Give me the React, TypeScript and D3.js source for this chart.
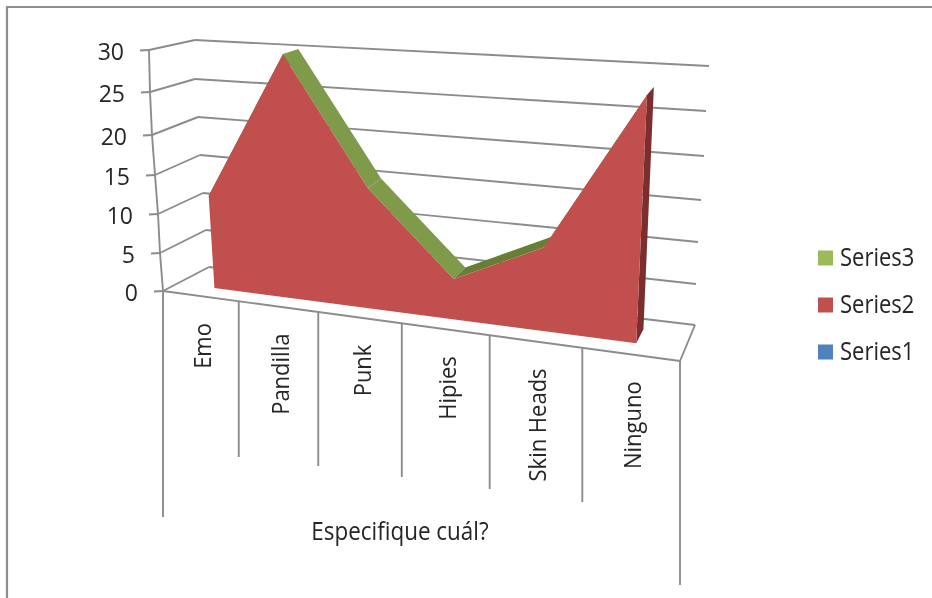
import React from "react";
import * as d3 from "d3";

const categories = ["Emo", "Pandilla", "Punk", "Hipies", "Skin Heads", "Ninguno"];
const series2 = [12, 30, 15, 5, 10, 28];
const series3 = [12, 30, 15, 5, 10, 28];
const legendItems = [
  { name: "Series3", color: "#9bbb59" },
  { name: "Series2", color: "#c0504d" },
  { name: "Series1", color: "#4f81bd" },
];
const yTicks = [0, 5, 10, 15, 20, 25, 30];
const axisTitle = "Especifique cuál?";

// calibration of the box edges at each y tick
const lfX = [163, 160, 158, 155, 152, 150, 149];
const lfY = [291, 253, 214, 175, 135, 92, 50];
const lbX = [209, 206, 203, 200, 198, 195, 195];
const lbY = [267, 230, 193, 155, 117, 79, 40];
const rbX = [695, 696, 698, 701, 704, 706, 709];
const rbY = [325, 284, 242, 200, 156, 111, 66];
const rfX = rbX.map((x) => 680 + (x - 695) * 1.06);
const rfY = rbY.map((y) => 361 - (325 - y) * 1.06);
const tickDrop = [517, 457, 466, 477, 489, 502, 585];

const sc = (r: number[]) => d3.scaleLinear().domain(yTicks).range(r);
const LFx = sc(lfX), LFy = sc(lfY), LBx = sc(lbX), LBy = sc(lbY);
const RBx = sc(rbX), RBy = sc(rbY), RFx = sc(rfX), RFy = sc(rfY);

const K = 1.165;
const persp = (u: number) => u / (u + K * (1 - u));
const catBin = (i: number) => persp((i + 0.5) / categories.length);
const catEdge = (i: number) => persp(i / categories.length);

function project(t: number, d: number, w: number): [number, number] {
  const fx = d3.interpolateNumber(LFx(w), RFx(w))(t);
  const fy = d3.interpolateNumber(LFy(w), RFy(w))(t);
  const bx = d3.interpolateNumber(LBx(w), RBx(w))(t);
  const by = d3.interpolateNumber(LBy(w), RBy(w))(t);
  return [fx + (bx - fx) * d, fy + (by - fy) * d];
}

const RED_D = 0.32;
const GREEN_D = 0.72;
const line = d3.line<[number, number]>();
const GRID = "#8c8c8c";
const INK = "#262626";

function Seg({ a, b, w = 1.9 }: { a: [number, number]; b: [number, number]; w?: number }) {
  return <line x1={a[0]} y1={a[1]} x2={b[0]} y2={b[1]} stroke={GRID} strokeWidth={w} />;
}

export default function App() {
  const redFront = series2.map((v, i) => project(catBin(i), RED_D, v));
  const redBase = series2.map((_, i) => project(catBin(i), RED_D, 0));
  const greenBack = series3.map((v, i) => project(catBin(i), GREEN_D, v));
  const last = categories.length - 1;
  const redPoly = line([...redFront, ...[...redBase].reverse()]) + "Z";
  const sidePoly =
    line([redFront[last], greenBack[last], project(catBin(last), GREEN_D, 0), redBase[last]]) + "Z";
  const strips = series2.slice(1).map((_, k) => {
    const i = k;
    const up = series2[i + 1] > series2[i];
    return {
      d: line([redFront[i], redFront[i + 1], greenBack[i + 1], greenBack[i]]) + "Z",
      fill: up ? "#667f35" : "#7f9a48",
    };
  });

  return (
    <svg
      width={932}
      height={598}
      style={{ position: "absolute", left: 0, top: 0, background: "#fff", fontFamily: "'Open Sans', sans-serif" }}
    >
      <defs>
        <filter id="soft" x="0" y="0" width="100%" height="100%">
          <feGaussianBlur stdDeviation="0.45" />
        </filter>
      </defs>
      <g filter="url(#soft)">
        <rect width={932} height={598} fill="#fff" />
        <path d="M7,598V7H932" fill="none" stroke="#8e8e8e" strokeWidth={2.2} />

        {/* back wall + side wall gridlines */}
        {yTicks.map((v) => {
          const p = project(0, 0, v);
          return (
            <g key={v}>
              <Seg a={project(0, 1, v)} b={project(1, 1, v)} />
              <Seg a={p} b={project(0, 1, v)} />
              <Seg a={[p[0] - 9, p[1] + 0.5]} b={p} />
              <text
                transform={`translate(${p[0] - 25},${p[1] + 10})`}
                textAnchor="end"
                fontSize={23}
                fill={INK}
              >
                {v}
              </text>
            </g>
          );
        })}
        {/* left axis and floor */}
        <path
          d={line(yTicks.map((v) => project(0, 0, v))) as string}
          fill="none"
          stroke={GRID}
          strokeWidth={1.9}
        />
        <Seg a={project(0, 0, 0)} b={project(1, 0, 0)} />
        <Seg a={project(1, 0, 0)} b={project(1, 1, 0)} />

        {/* category dividers */}
        {tickDrop.map((y2, i) => {
          const p = project(catEdge(i), 0, 0);
          return <Seg key={i} a={p} b={[p[0], y2]} />;
        })}

        {/* series */}
        {strips.map((s, i) => (
          <path key={i} d={s.d} fill={s.fill} />
        ))}
        <path d={sidePoly} fill="#7a2f2d" />
        <path d={redPoly} fill="#c0504d" />

        {/* category labels */}
        {categories.map((c, i) => {
          const p = project(catBin(i), 0, 0);
          return (
            <text
              key={c}
              transform={`translate(${p[0] + 11},${p[1] + 27}) rotate(-90) scale(1,1.1)`}
              textAnchor="end"
              fontSize={22}
              fill={INK}
            >
              {c}
            </text>
          );
        })}
        <text
          transform="translate(400,540) scale(1.02,1.15)"
          textAnchor="middle"
          fontSize={22}
          fill={INK}
        >
          {axisTitle}
        </text>

        {/* legend */}
        {legendItems.map((it, i) => (
          <g key={it.name} transform={`translate(818,${258 + i * 47})`}>
            <rect x={0} y={-7.5} width={15} height={15} fill={it.color} />
            <text transform="translate(22,8) scale(1,1.15)" fontSize={22} fill={INK}>
              {it.name}
            </text>
          </g>
        ))}
      </g>
    </svg>
  );
}
